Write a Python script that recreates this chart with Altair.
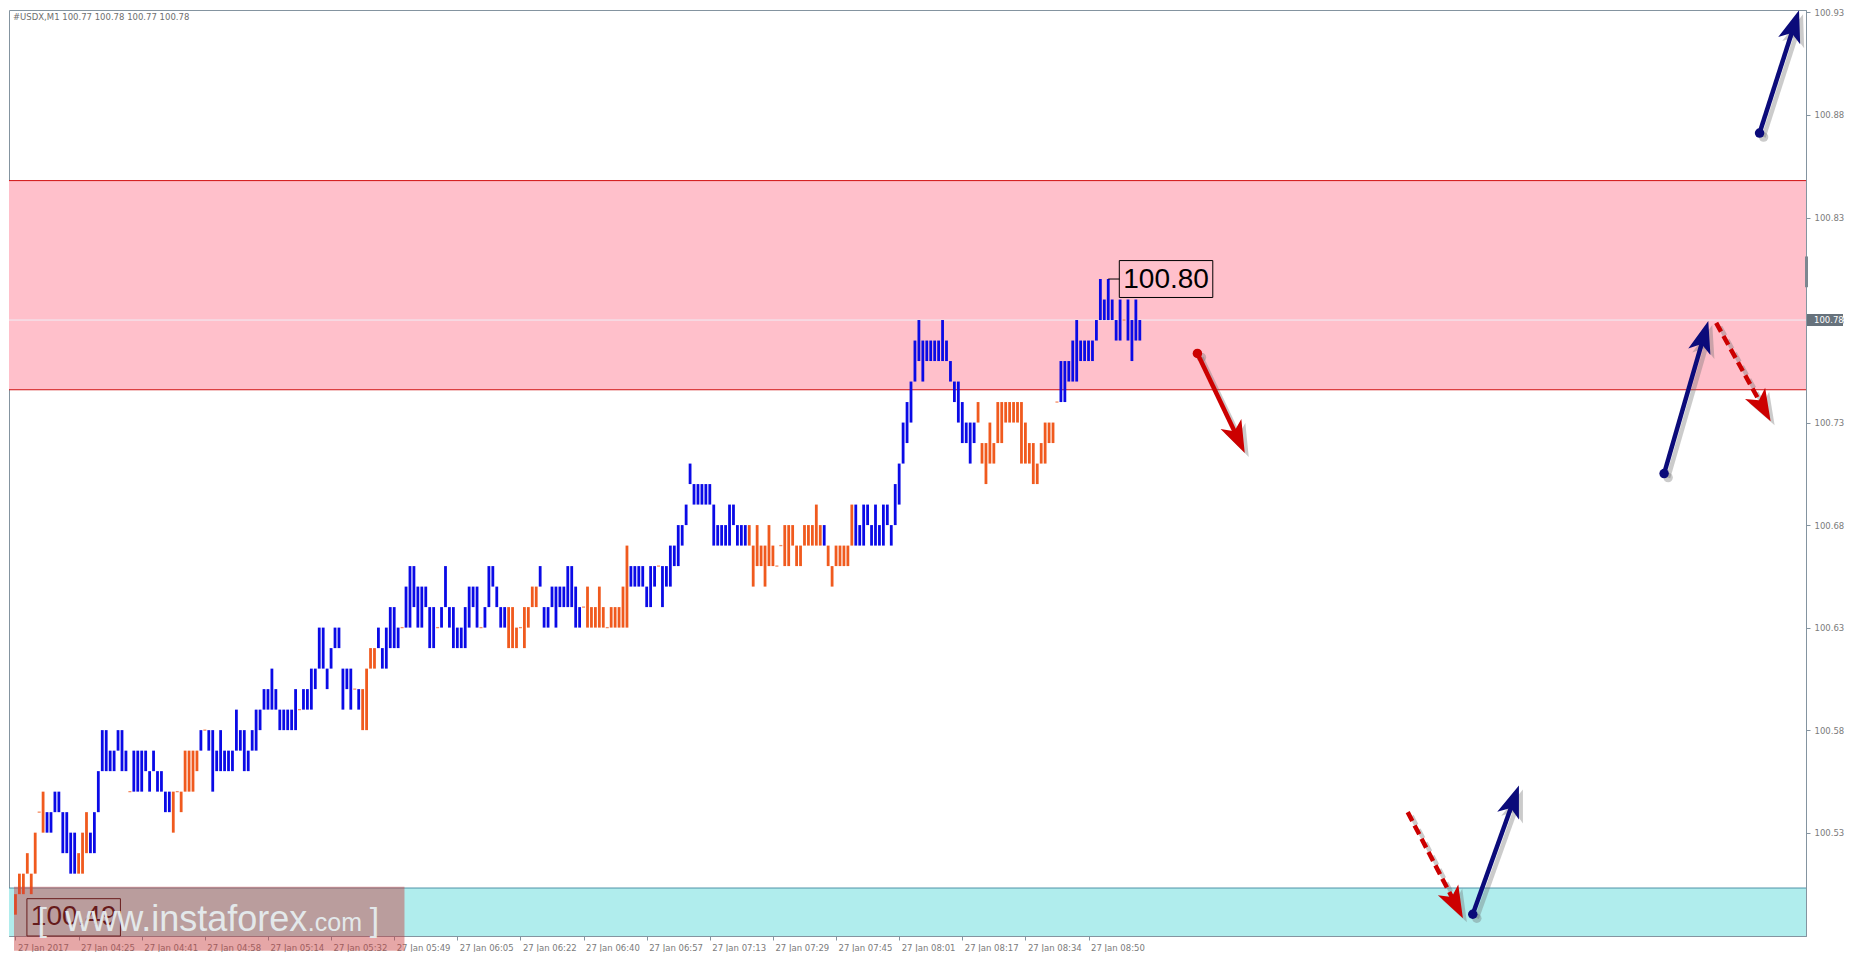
import json
import math
import altair as alt
import pandas as pd

# ---------------- data (prices in pips above 100.00) ----------------
HIGH_PIPS = [
    50, 51, 51, 52, 51, 53, 54, 55, 54, 54,
    55, 55, 54, 54, 53, 53, 52, 53, 54, 53,
    54, 56, 58, 58, 57, 57, 58, 58, 57, 55,
    57, 57, 57, 57, 56, 57, 56, 56, 55, 55,
    55, 55, 55, 57, 57, 57, 57, 58, 58, 58,
    58, 57, 58, 57, 57, 57, 59, 58, 58, 57,
    58, 59, 59, 60, 60, 61, 60, 59, 59, 59,
    59, 60, 59, 60, 60, 61, 61, 63, 63, 61,
    62, 63, 63, 61, 61, 61, 60, 60, 60, 61,
    62, 62, 63, 62, 63, 64, 64, 63, 63, 65,
    66, 66, 65, 65, 65, 64, 64, 63, 64, 66,
    64, 64, 63, 63, 64, 65, 65, 65, 63, 64,
    66, 66, 65, 64, 64, 64, 64, 63, 63, 64,
    64, 65, 65, 66, 64, 64, 65, 65, 65, 65,
    66, 66, 65, 64, 64, 65, 64, 64, 65, 64,
    63, 64, 64, 64, 65, 67, 66, 66, 66, 66,
    65, 66, 66, 66, 66, 66, 67, 67, 68, 68,
    69, 71, 70, 70, 70, 70, 70, 69, 68, 68,
    68, 69, 69, 68, 68, 68, 68, 67, 68, 67,
    67, 68, 67, 66, 67, 68, 68, 68, 67, 67,
    68, 68, 68, 69, 68, 68, 67, 66, 67, 67,
    67, 67, 69, 69, 68, 69, 69, 68, 69, 68,
    69, 69, 68, 70, 71, 73, 74, 75, 77, 78,
    77, 77, 77, 77, 77, 78, 77, 76, 75, 75,
    74, 73, 73, 73, 74, 72, 72, 73, 72, 74,
    74, 74, 74, 74, 74, 74, 73, 72, 72, 71,
    72, 73, 73, 73, 74, 76, 76, 76, 77, 78,
    77, 77, 77, 77, 78, 80, 79, 80, 79, 78,
    79, 78, 79, 78, 79, 78,
]
LOW_PIPS = [
    49, 50, 50, 51, 50, 51, 54, 53, 53, 53,
    54, 54, 52, 52, 51, 51, 51, 51, 52, 52,
    52, 54, 56, 56, 56, 56, 57, 56, 56, 55,
    55, 55, 55, 56, 55, 56, 55, 55, 54, 54,
    53, 55, 54, 55, 55, 55, 56, 57, 58, 57,
    55, 56, 56, 56, 56, 56, 57, 57, 56, 56,
    57, 57, 58, 59, 59, 59, 59, 58, 58, 58,
    58, 58, 59, 59, 59, 59, 60, 61, 61, 60,
    61, 62, 62, 59, 60, 59, 60, 59, 58, 58,
    61, 61, 62, 61, 61, 62, 62, 62, 63, 63,
    63, 64, 63, 63, 64, 62, 62, 63, 63, 64,
    63, 62, 62, 62, 62, 63, 64, 63, 63, 63,
    64, 65, 64, 63, 63, 62, 62, 62, 63, 62,
    63, 64, 64, 65, 63, 63, 64, 63, 64, 64,
    64, 64, 63, 63, 64, 63, 63, 63, 63, 63,
    63, 63, 63, 63, 63, 63, 65, 65, 65, 65,
    64, 64, 65, 66, 64, 65, 65, 66, 66, 67,
    68, 70, 69, 69, 69, 69, 69, 67, 67, 67,
    67, 67, 68, 67, 67, 67, 67, 65, 66, 66,
    65, 66, 66, 66, 67, 66, 66, 67, 66, 66,
    67, 67, 67, 67, 67, 67, 66, 65, 66, 66,
    66, 66, 67, 67, 67, 67, 68, 67, 67, 67,
    67, 68, 67, 68, 69, 71, 72, 73, 75, 76,
    75, 76, 76, 76, 76, 76, 76, 75, 74, 73,
    72, 72, 71, 72, 73, 71, 70, 71, 71, 72,
    72, 73, 73, 73, 73, 71, 71, 71, 70, 70,
    71, 71, 72, 72, 74, 74, 74, 75, 75, 75,
    76, 76, 76, 76, 77, 78, 78, 78, 78, 77,
    77, 78, 77, 76, 77, 77,
]
# u = up bar (blue), d = down bar (orange)
BAR_DIR = [
    "dddddddduu", "uuuuuudddu", "uuuuuuuuud", "uuuuuuuuuu", "dddddddudu",
    "uuuuuuuuuu", "uuuuuuuuuu", "uuduuuuuuu", "uuuuuududd", "dduuuuuudu",
    "uuuuuuuduu", "uuuuuuuudu", "uuuuuddddd", "ddduuuuuuu", "uuuudddddd",
    "dddddduuuu", "uuuduuuuuu", "uuuuuuuuuu", "uuuuuudddd", "dddddddddd",
    "dddddudddd", "ddduuuuuuu", "uuuuuuuuuu", "uuuuuuuuuu", "uuuudddddd",
    "dddddddddd", "ddddduuuuu", "uuuuuuuuuu", "uduuuu",
]

X_LABELS = ["27 Jan 2017", "27 Jan 04:25", "27 Jan 04:41", "27 Jan 04:58",
            "27 Jan 05:14", "27 Jan 05:32", "27 Jan 05:49", "27 Jan 06:05",
            "27 Jan 06:22", "27 Jan 06:40", "27 Jan 06:57", "27 Jan 07:13",
            "27 Jan 07:29", "27 Jan 07:45", "27 Jan 08:01", "27 Jan 08:17",
            "27 Jan 08:34", "27 Jan 08:50"]
BARS_PER_LABEL = 16
Y_TICKS = [100.53, 100.58, 100.63, 100.68, 100.73, 100.78, 100.83, 100.88, 100.93]

PINK_ZONE = [100.746, 100.848]
CYAN_ZONE = [100.4796, 100.503]
LAST_PRICE = 100.78
HEADER = "#USDX,M1  100.77 100.78 100.77 100.78"
HIGH_LABEL = {"text": "100.80", "price": 100.80, "bar": 277, "box": [279.8, 303.5, 100.791, 100.809]}
LOW_LABEL = {"text": "100.49", "price": 100.4887, "box": [2.9, 26.6, 100.4796, 100.4978]}

ARROWS = [
    {"x1": 299.6, "y1": 100.7637, "x2": 311.6, "y2": 100.7152, "color": "#cc0000", "dash": False, "dot": True},
    {"x1": 417.9, "y1": 100.7051, "x2": 429.1, "y2": 100.7795, "color": "#0b0b7a", "dash": False, "dot": True},
    {"x1": 431.1, "y1": 100.7786, "x2": 444.9, "y2": 100.7306, "color": "#cc0000", "dash": True, "dot": False},
    {"x1": 442.1, "y1": 100.8712, "x2": 452.1, "y2": 100.9311, "color": "#0b0b7a", "dash": False, "dot": True},
    {"x1": 352.9, "y1": 100.5400, "x2": 366.9, "y2": 100.4883, "color": "#cc0000", "dash": True, "dot": False},
    {"x1": 369.4, "y1": 100.4902, "x2": 381.1, "y2": 100.5530, "color": "#0b0b7a", "dash": False, "dot": True},
]

WATERMARK = {"box": [-0.375, 98.6, 100.4724, 100.5036], "base": 100.482}

# ---------------- layout ----------------
W, H = 1797, 926
X_DOM = [-0.375, 452.6]
Y_DOM = [100.4796, 100.9312]
PX_I = W / (X_DOM[1] - X_DOM[0])
PX_P = H / (Y_DOM[1] - Y_DOM[0])

BLUE = "#0a0ae6"
ORANGE = "#f05a1e"
AXIS_GRAY = "#8494a0"
LABEL_GRAY = "#7b7b7b"

xs = alt.Scale(domain=X_DOM, nice=False, zero=False)
ys = alt.Scale(domain=Y_DOM, nice=False, zero=False)

label_expr = json.dumps(X_LABELS) + "[round(datum.value / %d)]" % BARS_PER_LABEL
x_axis = alt.Axis(values=[k * BARS_PER_LABEL for k in range(len(X_LABELS))], labelExpr=label_expr,
                  title=None, grid=False, labelAlign="left", labelBaseline="top", labelOffset=2,
                  labelPadding=3, tickSize=4, labelFontSize=8.5, labelFont="DejaVu Sans",
                  labelColor=LABEL_GRAY, tickColor=AXIS_GRAY, domainColor=AXIS_GRAY,
                  labelOverlap=False, labelFlush=False)
y_axis = alt.Axis(orient="right", values=Y_TICKS, format=".2f", title=None, grid=False,
                  tickSize=4, labelPadding=4, labelFontSize=8.5, labelFont="DejaVu Sans",
                  labelColor=LABEL_GRAY, tickColor=AXIS_GRAY, domainColor=AXIS_GRAY,
                  labelOverlap=False, labelFlush=False)


def X(field):
    return alt.X(field, type="quantitative", scale=xs, axis=x_axis)


def Y(field):
    return alt.Y(field, type="quantitative", scale=ys, axis=y_axis)


dirs = "".join(BAR_DIR)
bars = pd.DataFrame({
    "i": list(range(len(HIGH_PIPS))),
    "high": [round(100 + h / 100, 2) for h in HIGH_PIPS],
    "low": [round(100 + l / 100, 2) for l in LOW_PIPS],
    "dir": list(dirs),
})
flat = bars[bars["high"] == bars["low"]]

color = alt.Color("dir:N", scale=alt.Scale(domain=["u", "d"], range=[BLUE, ORANGE]), legend=None)

# zones
pink = alt.Chart(pd.DataFrame([{"lo": PINK_ZONE[0], "hi": PINK_ZONE[1]}])).mark_rect(color="#ffc0cb").encode(
    x=alt.value(0), x2=alt.value(W), y=Y("lo"), y2="hi:Q")
pink_edges = alt.Chart(pd.DataFrame({"p": PINK_ZONE})).mark_rule(color="#d01010", strokeWidth=1).encode(
    x=alt.value(0), x2=alt.value(W), y=Y("p"))
cyan = alt.Chart(pd.DataFrame([{"lo": CYAN_ZONE[0], "hi": CYAN_ZONE[1]}])).mark_rect(color="#b0eded").encode(
    x=alt.value(0), x2=alt.value(W), y=Y("lo"), y2="hi:Q")
cyan_edge = alt.Chart(pd.DataFrame({"p": [CYAN_ZONE[1]]})).mark_rule(color="#4f93a8", strokeWidth=1).encode(
    x=alt.value(0), x2=alt.value(W), y=Y("p"))
bid_line = alt.Chart(pd.DataFrame({"p": [LAST_PRICE]})).mark_rule(color="#eeeef6", strokeWidth=1).encode(
    x=alt.value(0), x2=alt.value(W), y=Y("p"))

bar_layer = alt.Chart(bars).mark_bar(size=2.8, orient="vertical").encode(
    x=X("i"), y=Y("high"), y2="low:Q", color=color)
flat_layer = alt.Chart(flat).mark_tick(orient="horizontal", size=3, thickness=1.3).encode(
    x=X("i"), y=Y("high"), color=color)

# price labels
hb = HIGH_LABEL["box"]
hi_box = alt.Chart(pd.DataFrame([{"x1": hb[0], "x2": hb[1], "y1": hb[2], "y2": hb[3]}])).mark_rect(
    fill="#ffc0cb", stroke="#000000", strokeWidth=1).encode(
    x=X("x1"), x2="x2:Q", y=Y("y1"), y2="y2:Q")
hi_conn = alt.Chart(pd.DataFrame([{"x1": HIGH_LABEL["bar"], "x2": hb[0], "p": HIGH_LABEL["price"]}])).mark_rule(
    color="#000000", strokeWidth=1).encode(
    x=X("x1"), x2="x2:Q", y=Y("p"))
hi_text = alt.Chart(pd.DataFrame([{"x": (hb[0] + hb[1]) / 2, "p": HIGH_LABEL["price"], "t": HIGH_LABEL["text"]}])).mark_text(
    font="Liberation Sans", fontSize=28, color="#000000", align="center", baseline="middle", dy=1).encode(
    x=X("x"), y=Y("p"), text="t:N")

lb = LOW_LABEL["box"]
lo_box = alt.Chart(pd.DataFrame([{"x1": lb[0], "x2": lb[1], "y1": lb[2], "y2": lb[3]}])).mark_rect(
    fill="#ffffff", fillOpacity=0, stroke="#1a0000", strokeWidth=1).encode(
    x=X("x1"), x2="x2:Q", y=Y("y1"), y2="y2:Q")
lo_text = alt.Chart(pd.DataFrame([{"x": (lb[0] + lb[1]) / 2, "p": LOW_LABEL["price"], "t": LOW_LABEL["text"]}])).mark_text(
    font="Liberation Sans", fontSize=28, color="#140000", align="center", baseline="middle").encode(
    x=X("x"), y=Y("p"), text="t:N")

# arrows
HEAD = 32
rows_shaft, rows_head, rows_dot = [], [], []
for k, a in enumerate(ARROWS):
    dxp = (a["x2"] - a["x1"]) * PX_I
    dyp = -(a["y2"] - a["y1"]) * PX_P
    L = math.hypot(dxp, dyp)
    ux, uy = dxp / L, dyp / L
    ang = math.degrees(math.atan2(ux, -uy)) % 360
    back = 0.6 * HEAD
    ex = a["x2"] - back * ux / PX_I
    ey = a["y2"] + back * uy / PX_P
    rows_shaft.append({"k": k, "x1": a["x1"], "y1": a["y1"], "x2": ex, "y2": ey, "c": a["color"], "dash": a["dash"]})
    rows_head.append({"k": k, "x": a["x2"], "y": a["y2"], "ang": ang, "c": a["color"]})
    if a["dot"]:
        rows_dot.append({"k": k, "x": a["x1"], "y": a["y1"], "c": a["color"]})
shaft_df = pd.DataFrame(rows_shaft)
head_df = pd.DataFrame(rows_head)
dot_df = pd.DataFrame(rows_dot)
HEAD_PATH = "M0,0 L0.72,2 L0,1.5 L-0.72,2 Z"


def arrow_layers(shadow):
    off = 4 if shadow else 0
    col = alt.value("#6a6a6a") if shadow else alt.Color("c:N", scale=None)
    op = 0.35 if shadow else 1.0
    out = []
    for dashed in (False, True):
        sub = shaft_df[shaft_df["dash"] == dashed]
        if len(sub) == 0:
            continue
        kw = dict(strokeWidth=4.5, strokeCap="butt", opacity=op, xOffset=off, yOffset=off,
                  x2Offset=off, y2Offset=off)
        if dashed:
            kw["strokeDash"] = [10, 5]
        out.append(alt.Chart(sub).mark_rule(**kw).encode(
            x=X("x1"), x2="x2:Q", y=Y("y1"), y2="y2:Q", color=col))
    out.append(alt.Chart(head_df).mark_point(shape=HEAD_PATH, filled=True, size=HEAD * HEAD, opacity=op,
                                              strokeWidth=0, xOffset=off, yOffset=off).encode(
        x=X("x"), y=Y("y"), angle=alt.Angle("ang:Q", scale=None), color=col))
    out.append(alt.Chart(dot_df).mark_point(shape="circle", filled=True, size=90, opacity=op,
                                             xOffset=off, yOffset=off).encode(
        x=X("x"), y=Y("y"), color=col))
    return out


# watermark
wb = WATERMARK["box"]
wm_box = alt.Chart(pd.DataFrame([{"x1": wb[0], "x2": wb[1], "y1": wb[2], "y2": wb[3]}])).mark_rect(
    color="#c83c3c", opacity=0.45).encode(
    x=X("x1"), x2="x2:Q", y=Y("y1"), y2="y2:Q")
wm_parts = pd.DataFrame([
    {"x": 5.6, "t": "[", "s": 34},
    {"x": 12.6, "t": "www.instaforex", "s": 36},
    {"x": 74.1, "t": ".com", "s": 25},
    {"x": 89.8, "t": "]", "s": 34},
])
wm_parts["p"] = WATERMARK["base"]
wm_text = alt.Chart(wm_parts).mark_text(font="Liberation Sans", color="#e6edef", align="left",
                                        baseline="alphabetic", opacity=0.95).encode(
    x=X("x"), y=Y("p"), text="t:N", size=alt.Size("s:Q", scale=None))

# header + right axis current price label + scroll marker
header = alt.Chart(pd.DataFrame([{"t": HEADER}])).mark_text(
    font="DejaVu Sans", fontSize=8.5, color="#6e6e6e", align="left", baseline="middle").encode(
    x=alt.value(4), y=alt.value(7), text="t:N")
cur_box = alt.Chart(pd.DataFrame([{"lo": LAST_PRICE - 0.0029, "hi": LAST_PRICE + 0.0029}])).mark_rect(
    color="#67727c").encode(x=alt.value(W + 1), x2=alt.value(W + 37), y=Y("lo"), y2="hi:Q")
cur_text = alt.Chart(pd.DataFrame([{"p": LAST_PRICE, "t": "%.2f" % LAST_PRICE}])).mark_text(
    font="DejaVu Sans", fontSize=8.5, color="#ffffff", align="left", baseline="middle").encode(
    x=alt.value(W + 8), y=Y("p"), text="t:N")
marker = alt.Chart(pd.DataFrame([{"lo": 100.796, "hi": 100.811}])).mark_rect(color="#7d8790").encode(
    x=alt.value(W - 1), x2=alt.value(W + 2), y=Y("lo"), y2="hi:Q")

layers = [pink, pink_edges, cyan, cyan_edge, bid_line, bar_layer, flat_layer,
          hi_box, hi_conn, hi_text, lo_box, lo_text]
layers += arrow_layers(True) + arrow_layers(False)
layers += [wm_box, wm_text, header, cur_box, cur_text, marker]

chart = alt.layer(*layers).properties(
    width=W, height=H, padding={"left": 0, "top": 0, "right": 2, "bottom": 0}, background="#ffffff"
).configure_view(stroke=AXIS_GRAY, strokeWidth=1)

chart.save("out.html", embed_options={"renderer": "svg", "actions": False})
